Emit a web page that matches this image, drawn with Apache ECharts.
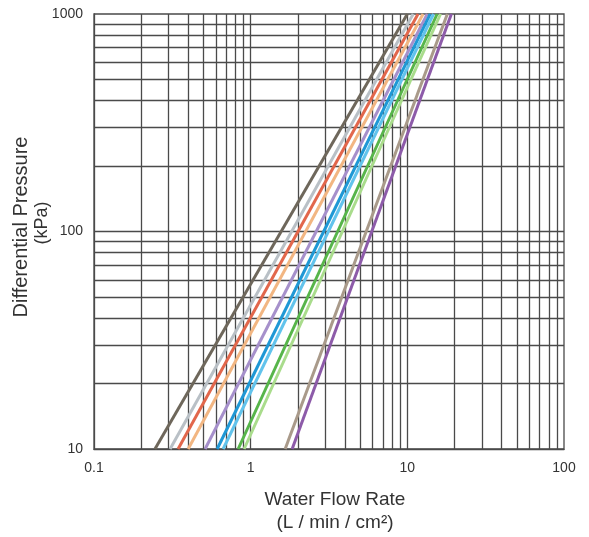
<!DOCTYPE html>
<html>
<head>
<meta charset="utf-8">
<script src="https://cdn.jsdelivr.net/npm/echarts@6/dist/echarts.min.js"></script>
<style>html,body{margin:0;padding:0;background:#fff}#c{width:589px;height:537px}</style>
</head>
<body>
<div id="c"></div>
<script>
// Data (flow at 10 kPa and at 1000 kPa)
const seriesNames = ['A','B','C','D','E','F','G','H','I','J','K'];
const flowAt10 =   [0.245, 0.306, 0.344, 0.399, 0.512, 0.611, 0.667, 0.832, 0.908, 1.66, 1.84];
const flowAt1000 = [10.0, 10.9, 11.7, 12.6, 13.4, 14.0, 14.7, 15.5, 16.3, 18.0, 19.1];
const pressures = [10, 1000];
const seriesColors = ['#6e675b','#b9c0c6','#e2674c','#f2b682','#a690cb','#1f98d5','#62c3ec','#57b54a','#a9dc8c','#a99a8a','#8d5ba9'];
const xGrid = [0.2,0.3,0.4,0.5,0.6,0.7,0.8,0.9,1,2,3,4,5,6,7,8,9,10,20,30,40,50,60,70,80,90];
const yGrid = [20,30,40,50,60,70,80,90,100,200,300,400,500,600,700,800,900];
const xTicks = [0.1, 1, 10, 100];
const yTicks = [10, 100, 1000];

const chart = echarts.init(document.getElementById('c'), null, {renderer:'canvas'});
const font = 'Liberation Sans, Arial, Helvetica, sans-serif';
const gridStyle = {color:'#4a4a4a', width:1.3, type:'solid'};

const series = seriesNames.map((n,i)=>({
  name:n, type:'line', symbol:'none', silent:true,
  data:[[flowAt10[i], pressures[0]],[flowAt1000[i], pressures[1]]],
  lineStyle:{color:seriesColors[i], width:3},
  z:5
}));
series.push({
  type:'line', data:[], silent:true, z:2,
  markLine:{
    silent:true, symbol:['none','none'], label:{show:false}, animation:false,
    lineStyle:gridStyle,
    emphasis:{disabled:true},
    data:[...xGrid.map(v=>({xAxis:v})), ...yGrid.map(v=>({yAxis:v}))]
  }
});

chart.setOption({
  animation:false,
  backgroundColor:'#fff',
  grid:{left:94, right:25, top:14, bottom:88, show:true, borderColor:'#4a4a4a', borderWidth:1.3, backgroundColor:'transparent', containLabel:false, outerBoundsMode:'none'},
  xAxis:{
    type:'log', logBase:10, min:0.1, max:100,
    axisLine:{show:true, lineStyle:{color:'#4a4a4a', width:1.3}},
    axisTick:{show:false}, splitLine:{show:false},
    axisLabel:{color:'#333', fontSize:14, fontFamily:font, margin:12,
      formatter:v=>{ const t = xTicks.find(k=>Math.abs(k-v)/k<1e-6); return t===undefined?'':String(t);} },
    name:'Water Flow Rate\n(L / min / cm²)', nameLocation:'middle', nameGap:39,
    nameTextStyle:{color:'#333', fontSize:19, fontFamily:font, lineHeight:23, padding:[0,0,0,12]}
  },
  yAxis:{
    type:'log', logBase:10, min:10, max:1000,
    axisLine:{show:true, lineStyle:{color:'#4a4a4a', width:1.3}},
    axisTick:{show:false}, splitLine:{show:false},
    axisLabel:{color:'#333', fontSize:14, fontFamily:font, margin:11,
      formatter:v=>{ const t = yTicks.find(k=>Math.abs(k-v)/k<1e-6); return t===undefined?'':String(t);} }
  },
  graphic:[
    {type:'text', x:21, y:227, rotation:Math.PI/2, silent:true,
      style:{text:'Differential Pressure', fill:'#333', font:'20px '+font, textAlign:'center', textVerticalAlign:'middle', verticalAlign:'middle'}},
    {type:'text', x:42, y:223, rotation:Math.PI/2, silent:true,
      style:{text:'(kPa)', fill:'#333', font:'18px '+font, textAlign:'center', textVerticalAlign:'middle', verticalAlign:'middle'}}
  ],
  series:series
});
</script>
</body>
</html>
